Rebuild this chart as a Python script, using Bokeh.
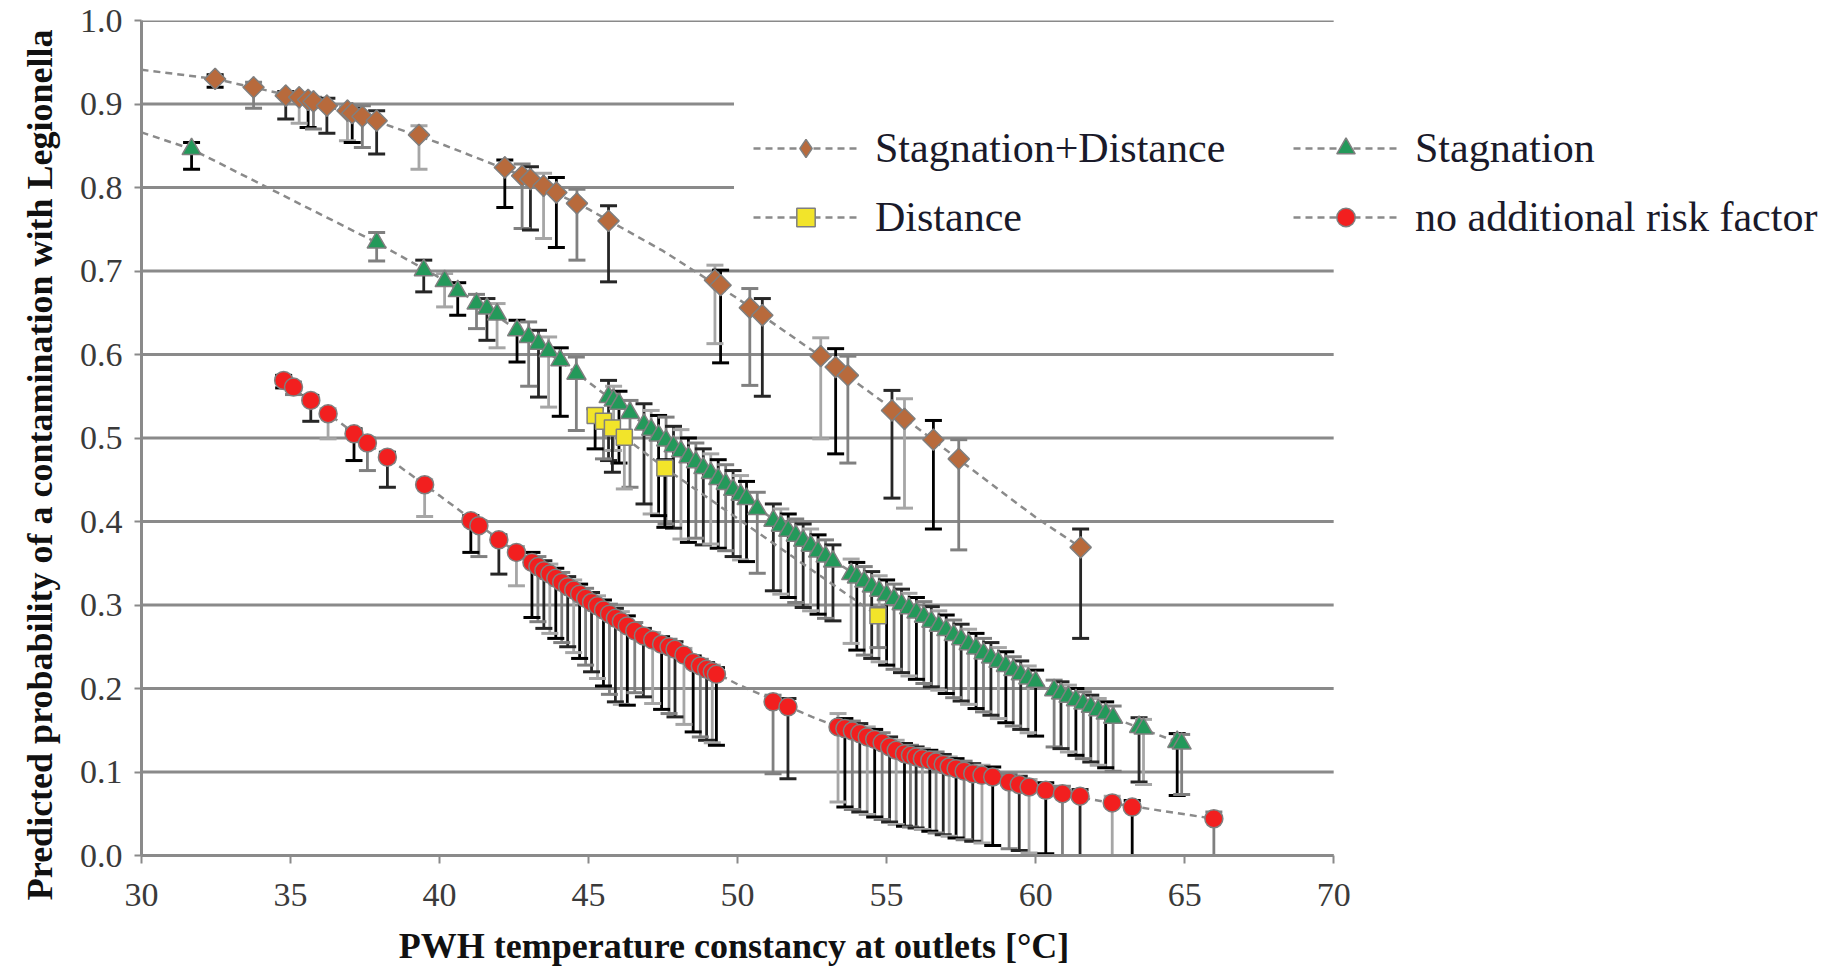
import numpy as np
from bokeh.plotting import figure
from bokeh.models import (ColumnDataSource, Legend, LegendItem, Range1d, Title,
                          FixedTicker, NumeralTickFormatter, BoxAnnotation)
from bokeh.embed import file_html
from bokeh.resources import INLINE

# ---------------- data ----------------
# Stagnation+Distance
sd_x = [32.47, 33.76, 34.84, 35.29, 35.59, 35.77, 36.22, 36.91, 37.07, 37.41, 37.89, 39.31,
        42.19, 42.77, 43.05, 43.49, 43.92, 44.61, 45.67, 49.24, 49.43, 50.41, 50.83, 52.79,
        53.29, 53.70, 55.18, 55.60, 56.57, 57.42, 61.51]
sd_y = [0.930, 0.920, 0.910, 0.908, 0.905, 0.903, 0.898, 0.892, 0.889, 0.885, 0.880, 0.863,
        0.824, 0.814, 0.810, 0.802, 0.794, 0.781, 0.760, 0.689, 0.683, 0.656, 0.647, 0.598,
        0.585, 0.575, 0.533, 0.523, 0.498, 0.475, 0.369]
sd_hi = [0.935, 0.926, 0.915, 0.913, 0.910, 0.908, 0.907, 0.897, 0.895, 0.898, 0.892, 0.874,
         0.833, 0.828, 0.825, 0.817, 0.812, 0.798, 0.778, 0.707, 0.701, 0.679, 0.667, 0.620,
         0.607, 0.598, 0.557, 0.547, 0.521, 0.498, 0.391]
sd_lo = [0.920, 0.895, 0.882, 0.877, 0.872, 0.870, 0.865, 0.856, 0.854, 0.848, 0.840, 0.822,
         0.776, 0.751, 0.749, 0.739, 0.728, 0.713, 0.687, 0.613, 0.590, 0.563, 0.550, 0.499,
         0.481, 0.470, 0.428, 0.416, 0.391, 0.366, 0.260]
sd_curve_x = [30.0, 32.47, 35.0, 37.5, 40.0, 42.5, 45.0, 47.5, 50.0, 52.5, 55.0, 57.5, 60.0, 61.51]
sd_curve_y = [0.941, 0.930, 0.910, 0.884, 0.853, 0.818, 0.774, 0.724, 0.667, 0.605, 0.540, 0.472, 0.405, 0.369]

# Stagnation
st_x = [31.68, 37.89, 39.47, 40.17, 40.61, 41.24, 41.59, 41.93, 42.60, 42.99, 43.32, 43.66, 44.05, 44.59,
        45.67, 45.84, 46.02, 46.39, 46.86,
        47.10, 47.35, 47.60, 47.85, 48.10, 48.35, 48.60, 48.85, 49.10, 49.35, 49.60, 49.85, 50.10, 50.30,
        50.66,
        51.20, 51.45, 51.70, 51.95, 52.20, 52.45, 52.70, 52.95, 53.20,
        53.81,
        54.00, 54.25, 54.50, 54.75, 55.00, 55.25, 55.50, 55.75, 56.00, 56.25, 56.50, 56.75, 57.00,
        57.25, 57.50, 57.75, 58.00, 58.25, 58.50, 58.75, 59.00, 59.25, 59.50, 59.75, 60.00,
        60.62,
        60.85, 61.10, 61.35, 61.60, 61.85, 62.10, 62.35, 62.60,
        63.47, 63.62, 64.75, 64.90]
st_y = [0.846, 0.734, 0.701, 0.688, 0.676, 0.661, 0.655, 0.648, 0.629, 0.621, 0.613, 0.604, 0.593, 0.577,
        0.549, 0.545, 0.541, 0.530, 0.516,
        0.510, 0.503, 0.497, 0.490, 0.484, 0.477, 0.471, 0.464, 0.458, 0.451, 0.445, 0.438, 0.432, 0.427,
        0.415,
        0.401, 0.395, 0.389, 0.383, 0.377, 0.371, 0.364, 0.358, 0.352,
        0.337,
        0.333, 0.328, 0.322, 0.317, 0.312, 0.307, 0.301, 0.296, 0.291, 0.286, 0.280, 0.275, 0.270,
        0.264, 0.259, 0.253, 0.248, 0.242, 0.237, 0.232, 0.227, 0.222, 0.217, 0.212, 0.208,
        0.198,
        0.194, 0.190, 0.186, 0.182, 0.178, 0.174, 0.170, 0.165,
        0.154, 0.152, 0.136, 0.134]
st_hi = [0.854, 0.746, 0.713, 0.697, 0.686, 0.672, 0.667, 0.661, 0.641, 0.639, 0.629, 0.621, 0.608, 0.597,
         0.569, 0.562, 0.556, 0.545, 0.541,
         0.533, 0.527, 0.525, 0.514, 0.510, 0.500, 0.494, 0.487, 0.481, 0.474, 0.468, 0.461, 0.455, 0.448,
         0.435,
         0.421, 0.415, 0.409, 0.403, 0.397, 0.391, 0.384, 0.378, 0.372,
         0.355,
         0.351, 0.346, 0.340, 0.335, 0.330, 0.325, 0.319, 0.314, 0.309, 0.304, 0.298, 0.293, 0.288,
         0.282, 0.277, 0.271, 0.266, 0.260, 0.255, 0.249, 0.244, 0.238, 0.233, 0.227, 0.222,
         0.210,
         0.208, 0.204, 0.200, 0.196, 0.192, 0.188, 0.184, 0.179,
         0.165, 0.163, 0.146, 0.145]
st_lo = [0.822, 0.712, 0.675, 0.657, 0.647, 0.631, 0.617, 0.608, 0.591, 0.562, 0.549, 0.537, 0.526, 0.509,
         0.473, 0.485, 0.470, 0.441, 0.421,
         0.409, 0.407, 0.397, 0.392, 0.379, 0.375, 0.380, 0.372, 0.373, 0.368, 0.365, 0.358, 0.354, 0.352,
         0.338,
         0.317, 0.313, 0.309, 0.303, 0.297, 0.293, 0.289, 0.284, 0.281,
         0.254,
         0.246, 0.240, 0.236, 0.232, 0.228, 0.223, 0.219, 0.215, 0.211, 0.206, 0.202, 0.198, 0.194,
         0.189, 0.185, 0.181, 0.176, 0.172, 0.168, 0.164, 0.159, 0.155, 0.151, 0.147, 0.143,
         0.130,
         0.128, 0.124, 0.120, 0.116, 0.112, 0.108, 0.105, 0.101,
         0.088, 0.085, 0.072, 0.073]
st_curve_x = [30.0, 31.68, 35.0, 37.89, 40.0, 42.5, 45.0, 47.5, 50.0, 52.5, 55.0, 57.5, 60.0, 62.5, 64.9]
st_curve_y = [0.866, 0.846, 0.786, 0.734, 0.692, 0.632, 0.567, 0.499, 0.433, 0.370, 0.312, 0.259, 0.208, 0.166, 0.134]

# Distance
d_x = [45.22, 45.50, 45.80, 46.20, 47.56, 54.71]
d_y = [0.527, 0.520, 0.512, 0.501, 0.464, 0.287]
d_hi = [0.535, 0.528, 0.520, 0.509, 0.474, 0.297]
d_lo = [0.487, 0.475, 0.459, 0.439, 0.393, 0.249]
d_curve_x = [45.22, 45.50, 45.80, 46.20, 47.56, 54.71]
d_curve_y = [0.527, 0.520, 0.512, 0.501, 0.464, 0.287]

# no additional risk factor
n_x = [34.77, 35.10, 35.68, 36.26, 37.13, 37.58, 38.25, 39.50, 41.05, 41.32, 41.99, 42.58,
       43.10, 43.30, 43.50, 43.70, 43.90, 44.10, 44.30, 44.50, 44.70, 44.90, 45.10, 45.30, 45.50,
       45.70, 45.90, 46.10, 46.30,
       46.55, 46.84, 47.15, 47.45, 47.70, 47.90, 48.20, 48.51, 48.75, 48.96, 49.15, 49.29,
       51.19, 51.69, 53.37,
       53.60, 53.85, 54.10, 54.35, 54.60, 54.85, 55.10, 55.32, 55.60, 55.80, 55.99, 56.20, 56.45,
       56.66, 56.90, 57.10, 57.33, 57.60, 57.89, 58.20, 58.56,
       59.11, 59.45, 59.78, 60.34, 60.90, 61.49, 62.57, 63.24, 65.98]
n_y = [0.569, 0.561, 0.545, 0.529, 0.505, 0.494, 0.477, 0.444, 0.401, 0.395, 0.378, 0.363,
       0.351, 0.346, 0.341, 0.337, 0.332, 0.327, 0.322, 0.318, 0.313, 0.308, 0.303, 0.299, 0.294,
       0.289, 0.284, 0.280, 0.275,
       0.269, 0.263, 0.258, 0.253, 0.250, 0.247, 0.240, 0.231, 0.227, 0.223, 0.220, 0.217,
       0.184, 0.178, 0.154,
       0.152, 0.149, 0.146, 0.142, 0.139, 0.135, 0.130, 0.126, 0.122, 0.120, 0.118, 0.116, 0.114,
       0.112, 0.109, 0.106, 0.104, 0.101, 0.098, 0.096, 0.094,
       0.088, 0.085, 0.082, 0.078, 0.074, 0.071, 0.063, 0.058, 0.044]
n_hi = [0.575, 0.567, 0.551, 0.535, 0.511, 0.500, 0.483, 0.450, 0.407, 0.401, 0.384, 0.370,
        0.363, 0.358, 0.353, 0.349, 0.344, 0.339, 0.334, 0.330, 0.325, 0.320, 0.315, 0.311, 0.306,
        0.301, 0.296, 0.292, 0.287,
        0.279, 0.272, 0.267, 0.262, 0.259, 0.256, 0.248, 0.239, 0.235, 0.231, 0.228, 0.225,
        0.192, 0.188, 0.170,
        0.164, 0.161, 0.158, 0.154, 0.151, 0.147, 0.142, 0.138, 0.134, 0.132, 0.130, 0.128, 0.126,
        0.124, 0.121, 0.118, 0.116, 0.113, 0.110, 0.108, 0.106,
        0.098, 0.095, 0.091, 0.087, 0.083, 0.079, 0.071, 0.066, 0.052]
n_lo = [0.560, 0.552, 0.520, 0.499, 0.473, 0.461, 0.441, 0.406, 0.363, 0.358, 0.337, 0.323,
        0.285, 0.280, 0.272, 0.266, 0.260, 0.255, 0.250, 0.243, 0.236, 0.228, 0.220, 0.212, 0.203,
        0.193, 0.184, 0.181, 0.180,
        0.195, 0.190, 0.182, 0.175, 0.170, 0.166, 0.157, 0.148, 0.142, 0.138, 0.135, 0.132,
        0.098, 0.092, 0.064,
        0.058, 0.055, 0.052, 0.049, 0.046, 0.043, 0.040, 0.037, 0.035, 0.034, 0.033, 0.031, 0.029,
        0.027, 0.025, 0.023, 0.021, 0.019, 0.017, 0.015, 0.012,
        0.008, 0.006, 0.003, 0.002, 0.000, 0.000, 0.000, 0.000, 0.000]
n_curve_x = [34.77, 36.0, 38.0, 40.0, 42.5, 45.0, 47.5, 50.0, 52.5, 55.0, 57.5, 60.0, 62.5, 65.98]
n_curve_y = [0.569, 0.536, 0.483, 0.431, 0.365, 0.306, 0.252, 0.205, 0.166, 0.131, 0.102, 0.080, 0.063, 0.044]

x_ticks = [30, 35, 40, 45, 50, 55, 60, 65, 70]
y_ticks = [0.0, 0.1, 0.2, 0.3, 0.4, 0.5, 0.6, 0.7, 0.8, 0.9, 1.0]

labels = ["Stagnation+Distance", "Stagnation", "Distance", "no additional risk factor"]
x_title = "PWH temperature constancy at outlets [°C]"
y_title = "Predicted probability of a contamination with Legionella"

# ---------------- figure ----------------
W, H = 1830, 968
LEFT, TOP, BOTTOM_Y = 137, 20, 855          # frame edges in canvas pixels
AX_RIGHT_PX = 1332                          # pixel position of x = 70
px_per_unit = (AX_RIGHT_PX - LEFT) / (x_ticks[-1] - x_ticks[0])
x_end = x_ticks[0] + (W - LEFT) / px_per_unit   # frame runs on to the right edge (room for legend)

p = figure(width=W, height=H, x_range=Range1d(x_ticks[0], x_end), y_range=Range1d(0, 1),
           output_backend="svg", toolbar_location=None,
           min_border_left=LEFT, min_border_right=0,
           min_border_top=TOP, min_border_bottom=H - BOTTOM_Y)
p.outline_line_color = None
p.background_fill_color = "white"
p.border_fill_color = "white"

GRID = "#8a8a8a"
p.xgrid.visible = False
p.ygrid.visible = False
# horizontal grid lines, limited to the axis extent
p.segment(x0=[x_ticks[0]] * len(y_ticks), x1=[x_ticks[-1]] * len(y_ticks),
          y0=y_ticks, y1=y_ticks, line_color=GRID, line_width=3, level="underlay")
# white area behind the legend (hides the grid lines there)
p.add_layout(BoxAnnotation(left=49.88, right=x_ticks[-1] + 0.5, bottom=0.71, top=0.904,
                           fill_color="white", fill_alpha=1.0, line_color=None,
                           level="underlay"))

FONT = "Liberation Serif"
for ax in (p.xaxis[0], p.yaxis[0]):
    ax.axis_line_color = GRID
    ax.axis_line_width = 3
    ax.major_tick_line_color = GRID
    ax.major_tick_line_width = 2
    ax.major_tick_in = 0
    ax.minor_tick_line_color = None
    ax.major_label_text_font = FONT
    ax.major_label_text_font_size = "34px"
    ax.major_label_text_color = "#3a3a3a"
    ax.axis_label_text_font = FONT
    ax.axis_label_text_font_style = "bold"
    ax.axis_label_text_font_size = "36px"
    ax.axis_label_text_color = "#111111"

p.xaxis.bounds = (x_ticks[0], x_ticks[-1])
p.xaxis.ticker = FixedTicker(ticks=x_ticks)
p.xaxis.major_tick_out = 8
p.xaxis.major_label_standoff = 20
# the label is centred on the (wider) frame: trailing no-break spaces move the
# visible words back over the 30-70 axis
p.xaxis.axis_label = x_title + "\u00a0" * 56
p.xaxis.axis_label_standoff = 17

p.yaxis.ticker = FixedTicker(ticks=y_ticks)
p.yaxis.formatter = NumeralTickFormatter(format="0.0")
p.yaxis.major_tick_out = 7
p.yaxis.major_label_standoff = 12

# y axis title as a side title (can be positioned along the axis)
p.add_layout(Title(text=y_title, align="right", offset=9, standoff=34,
                   text_font=FONT, text_font_style="bold", text_font_size="36px",
                   text_color="#111111"), "left")

BAR_COLORS = ["#000000", "#808080", "#262626", "#a6a6a6"]


def add_series(x, y, lo, hi, cx, cy, marker, size, fill, angle=0.0, legend_marker=None):
    cols = [BAR_COLORS[i % len(BAR_COLORS)] for i in range(len(x))]
    src = ColumnDataSource(dict(x=x, y=y, lo=lo, hi=hi, c=cols))
    p.segment(x0="x", y0="lo", x1="x", y1="hi", source=src, line_color="c", line_width=2.8)
    p.scatter(x="x", y="lo", source=src, marker="dash", size=17, line_color="c", line_width=3)
    p.scatter(x="x", y="hi", source=src, marker="dash", size=17, line_color="c", line_width=3)
    lr = p.line(cx, cy, line_color="#8a8a8a", line_width=2.5, line_dash="7 5")
    lm = None
    if legend_marker is not None:
        # narrow marker used for the legend swatch; hidden under the plotted marker
        lm = p.scatter(x="x", y="y", source=src, marker=legend_marker[0], size=legend_marker[1],
                       fill_color=fill, line_color="#7f7f7f", line_width=1.5)
    mr = p.scatter(x="x", y="y", source=src, marker=marker, size=size, angle=angle,
                   fill_color=fill, line_color="#7f7f7f", line_width=1.5)
    return lr, (lm if lm is not None else mr)


st_l, st_m = add_series(st_x, st_y, st_lo, st_hi, st_curve_x, st_curve_y, "triangle", 19, "#23995a")
d_l, d_m = add_series(d_x, d_y, d_lo, d_hi, d_curve_x, d_curve_y, "square", 16, "#f2e42a")
n_l, n_m = add_series(n_x, n_y, n_lo, n_hi, n_curve_x, n_curve_y, "circle", 18, "#f21f1f")
sd_l, sd_m = add_series(sd_x, sd_y, sd_lo, sd_hi, sd_curve_x, sd_curve_y, "square", 15, "#b86a3c",
                        angle=np.pi / 4, legend_marker=("diamond", 21))

# two columns, filled column by column
legend = Legend(items=[
    LegendItem(label=labels[0], renderers=[sd_l, sd_m]),
    LegendItem(label=labels[2], renderers=[d_l, d_m]),
    LegendItem(label=labels[1], renderers=[st_l, st_m]),
    LegendItem(label=labels[3], renderers=[n_l, n_m]),
], ncols=2, location=(749 - LEFT, BOTTOM_Y - 241))
legend.background_fill_alpha = 0
legend.border_line_color = None
legend.padding = 0
legend.margin = 0
legend.glyph_width = 105
legend.glyph_height = 46
legend.label_height = 46
legend.spacing = 21
legend.label_standoff = 17
legend.label_width = 397
legend.label_text_font = FONT
legend.label_text_font_size = "42px"
legend.label_text_color = "#1a1a2a"
p.add_layout(legend)

open("out.html", "w").write(file_html(p, INLINE))
